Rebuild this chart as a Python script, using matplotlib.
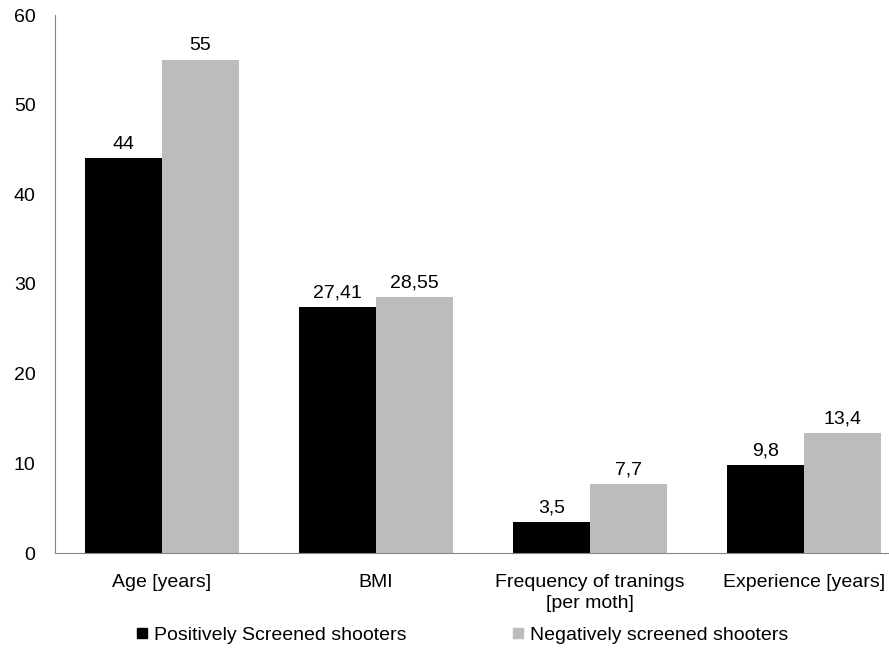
import matplotlib
matplotlib.use("Agg")
import matplotlib.pyplot as plt
from matplotlib.lines import Line2D
import numpy as np

plt.rcParams['font.family'] = ['Liberation Sans', 'DejaVu Sans']

categories = ["Age [years]", "BMI", "Frequency of tranings\n[per moth]", "Experience [years]"]
positive = [44, 27.41, 3.5, 9.8]
negative = [55, 28.55, 7.7, 13.4]
positive_labels = ["44", "27,41", "3,5", "9,8"]
negative_labels = ["55", "28,55", "7,7", "13,4"]
series_names = ["Positively Screened shooters", "Negatively screened shooters"]
yticks = [0, 10, 20, 30, 40, 50, 60]

FS = 14
W, H = 889, 648
fig = plt.figure(figsize=(W / 100, H / 100), dpi=100)
ax = fig.add_axes([55 / W, 95 / H, (889 - 55) / W, 538 / H])

c_pos = "#000000"
c_neg = "#BBBCBE"
x = np.arange(len(categories))
bw = 0.36
ax.bar(x - bw / 2, positive, width=bw, color=c_pos, edgecolor="none")
ax.bar(x + bw / 2, negative, width=bw, color=c_neg, edgecolor="none")

for xi, v, lab in zip(x, positive, positive_labels):
    ax.annotate(lab, (xi - bw / 2, v), xytext=(0, 4), textcoords="offset points",
                ha="center", va="bottom", fontsize=FS)
for xi, v, lab in zip(x, negative, negative_labels):
    ax.annotate(lab, (xi + bw / 2, v), xytext=(0, 4), textcoords="offset points",
                ha="center", va="bottom", fontsize=FS)

ax.set_xlim(-0.5, (889 - 55) / 214 - 0.5)
ax.set_ylim(0, 60)
ax.set_yticks(yticks)
ax.set_xticks(x)
ax.set_xticklabels(categories, fontsize=FS, linespacing=1.35)
ax.tick_params(axis="y", length=0, pad=14, labelsize=FS)
ax.tick_params(axis="x", length=0, pad=15)
for s in ["top", "right"]:
    ax.spines[s].set_visible(False)
ax.spines["left"].set_color("#868686")
ax.spines["bottom"].set_color("#868686")

colors = [c_pos, c_neg]
lefts = [137, 513]
for name, col, lx in zip(series_names, colors, lefts):
    h = Line2D([], [], marker="s", linestyle="none", markersize=7.5, color=col)
    fig.legend([h], [name], loc="center left", bbox_to_anchor=(lx / W, 1 - 635 / H),
               frameon=False, fontsize=FS, handlelength=0.55, handletextpad=0.3,
               borderpad=0, borderaxespad=0)

fig.savefig("out.png", dpi=100)
